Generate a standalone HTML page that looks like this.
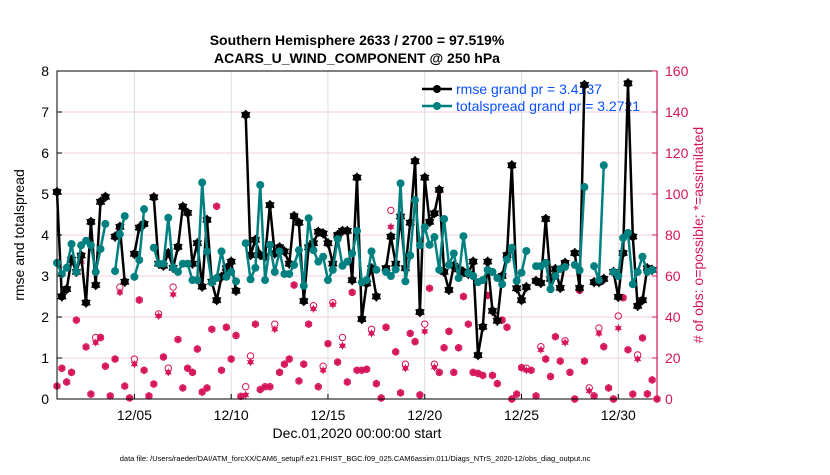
<!DOCTYPE html>
<html><head><meta charset="utf-8"><style>
body{margin:0;background:#fff;width:830px;height:470px;overflow:hidden;font-family:"Liberation Sans",sans-serif}
svg text{font-family:"Liberation Sans",sans-serif}
</style></head><body>
<svg id="chart" width="830" height="470" xmlns="http://www.w3.org/2000/svg">
<text x="357" y="45" text-anchor="middle" font-size="14" font-weight="bold">Southern Hemisphere 2633 / 2700 = 97.519%</text>
<text x="357" y="63" text-anchor="middle" font-size="14" font-weight="bold">ACARS_U_WIND_COMPONENT @ 250 hPa</text>
<g id="grid"></g>
<g>
<line x1="422" y1="89" x2="452" y2="89" stroke="#000" stroke-width="2.5"/><circle cx="437" cy="89" r="4" fill="#000"/>
<text x="456" y="94" font-size="14" fill="#0a50ff">rmse grand pr = 3.4137</text>
<line x1="422" y1="106" x2="452" y2="106" stroke="#008080" stroke-width="2.5"/><circle cx="437" cy="106" r="4" fill="#008080"/>
<text x="456" y="111" font-size="14" fill="#0a50ff">totalspread grand pr = 3.2721</text>
</g>
<g id="obs"></g>
<g id="lines"></g>
<g id="axes"></g>
<text transform="translate(24,235) rotate(-90)" text-anchor="middle" font-size="14">rmse and totalspread</text>
<text transform="translate(703,235) rotate(-90)" text-anchor="middle" font-size="14" fill="#d6155a"># of obs: o=possible; *=assimilated</text>
<text x="357" y="438" text-anchor="middle" font-size="14">Dec.01,2020 00:00:00 start</text>
<text x="355" y="461" text-anchor="middle" font-size="7.5">data file: /Users/raeder/DAI/ATM_forcXX/CAM6_setup/f.e21.FHIST_BGC.f09_025.CAM6assim.011/Diags_NTrS_2020-12/obs_diag_output.nc</text>
</svg>
<script>
const rmse=[5.05,2.5,2.68,3.4,3.1,3.5,2.35,4.32,2.78,4.81,4.93,null,3.96,4.2,2.86,null,3.54,4.18,4.27,null,4.92,3.3,3.25,3.56,3.2,3.71,4.69,4.54,3.3,3.8,2.74,4.37,2.86,2.41,2.98,3.19,3.35,2.64,null,6.93,3.51,3.88,3.51,3.47,4.73,3.55,3.7,3.6,3.3,4.46,4.3,2.39,3.7,3.8,4.08,4.04,3.8,3.3,4.0,4.1,4.1,2.9,5.4,1.95,2.82,3.19,2.5,null,3.19,3.96,3.3,4.45,3.19,4.3,5.8,2.12,5.4,4.32,4.53,5.1,3.1,2.66,3.25,3.16,3.1,3.05,3.35,1.07,1.76,3.35,2.15,1.91,3.0,3.51,5.7,2.7,2.41,2.73,null,2.88,2.83,4.39,2.93,3.17,2.71,3.32,null,3.56,2.71,7.66,null,2.85,2.85,2.93,null,3.1,2.49,3.56,7.7,3.96,2.27,2.41,3.19,3.15,null];
const spread=[3.32,3.05,3.2,3.78,3.1,3.75,3.86,3.75,3.1,3.66,4.27,null,3.12,4.02,4.46,null,2.98,3.39,4.63,null,3.69,3.3,3.3,4.42,3.2,3.1,3.3,3.3,2.9,2.9,5.28,3.6,2.84,2.95,3.6,2.98,3.1,2.87,null,3.8,2.92,3.2,5.22,2.9,3.76,3.1,3.6,3.05,3.05,3.27,3.63,2.76,4.41,3.63,3.35,3.47,2.9,3.15,3.9,3.25,3.35,3.55,4.1,2.85,2.9,3.6,3.15,null,3.1,3.0,3.16,5.26,2.87,3.5,4.85,3.75,4.19,3.76,3.95,3.15,4.39,3.27,3.55,2.95,3.97,3.07,3.0,2.85,2.9,3.15,3.1,2.95,2.8,3.4,3.69,2.88,3.08,3.61,null,3.24,3.24,3.32,2.68,3.0,3.17,3.22,null,3.27,3.14,5.17,null,3.24,2.9,5.7,null,3.1,3.0,3.93,4.05,2.8,3.1,3.47,3.1,3.15,null];
const possible=[6.3,15,8.3,13,38.5,70,25.4,2.4,30,30,16,1.5,19.5,54.6,6.3,0.5,19.5,48.3,14,1.5,7.3,41.5,20.5,15,54.6,29,5.4,15,13,24.4,3.4,5.4,34,94,14,35,19.5,31,1.3,6,21,36.5,4.6,6,6,36.5,13,17,19.5,55.6,8.8,17,36.5,45.5,6,16,27,47,18,30,8.3,52,14,14,14.5,34,7.5,0.5,35,92,23,3,17,32,28,2,36.5,54,17,13,25,33,13,25,50,36.5,13,12.5,11.5,50.5,11.5,7.5,38.5,35,0,2.4,15.3,15,14,1.5,25.5,19.5,11,30.4,18.5,28.4,13,0,53,18.5,5.4,1.5,34.6,25.5,5.4,0,40.5,49.4,24,2.4,21.5,29.8,2.5,9.3,0];
const assimilated=[6.3,15,8.3,13,38.5,67,25.4,2.4,27.5,30,16,1.5,19.5,52,6.3,0.5,17,48.3,14,1.5,7.3,40.5,20.5,13,51,29,5.4,15,13,24.4,3.4,5.4,34,94,14,35,19.5,31,1.3,2,18,36.5,4.6,6,6,34,13,17,19.5,55.6,8.8,17,36.5,44,6,14,27,46,18,26,8.3,52,14,14,14.5,32,7.5,0.5,35,84,23,3,15,32,28,2,33,54,15.5,13,25,33,13,25,50,36.5,13,12.5,11.5,50.5,11.5,7.5,38.5,35,0,2.4,15.3,14,14,1.5,24,19.5,11,30.4,18.5,27.5,13,0,53,18.5,4,1.5,32,25.5,5.4,0,34.6,49.4,24,2.4,19.5,29.8,2.5,9.3,0];
const dayTicks=[4,9,14,19,24,29];
const dayLabels=["12/05","12/10","12/15","12/20","12/25","12/30"];
const leftTicks=[0,1,2,3,4,5,6,7,8];
const rightTicks=[0,20,40,60,80,100,120,140,160];

const X0=57,X1=657,Y0=399,Y1=71,NS="http://www.w3.org/2000/svg";
const xs=t=>X0+t/31*(X1-X0);
const yL=v=>Y0-v/8*(Y0-Y1);
const yR=v=>Y0-v/160*(Y0-Y1);
const tOf=i=>i/4;
function mk(p,tag,a){const e=document.createElementNS(NS,tag);for(const k in a)e.setAttribute(k,a[k]);p.appendChild(e);return e;}
const grid=document.getElementById('grid'),axes=document.getElementById('axes'),obs=document.getElementById('obs'),lines=document.getElementById('lines');
rightTicks.forEach(v=>{const l=mk(grid,'line',{x1:X0,x2:X1,y1:yR(v),y2:yR(v),stroke:'#f3cfdc','stroke-width':1});

});
dayTicks.forEach((d,k)=>{const l=mk(grid,'line',{x1:xs(d),x2:xs(d),y1:Y1,y2:Y0,stroke:'#ddd','stroke-width':1});


const t=mk(axes,'text',{x:xs(d),y:Y0+21,'text-anchor':'middle','font-size':14});t.textContent=dayLabels[k];


mk(axes,'line',{x1:xs(d),x2:xs(d),y1:Y0,y2:Y0-5,stroke:'#000'});});
mk(axes,'rect',{x:X0,y:Y1,width:X1-X0,height:Y0-Y1,fill:'none',stroke:'#000','stroke-width':1});
mk(axes,'line',{x1:X1,x2:X1,y1:Y1,y2:Y0,stroke:'#d6155a','stroke-width':1.2});
leftTicks.forEach(v=>{const t=mk(axes,'text',{x:X0-8,y:yL(v)+5,'text-anchor':'end','font-size':14});t.textContent=v;


mk(axes,'line',{x1:X0,x2:X0+5,y1:yL(v),y2:yL(v),stroke:'#000'});});
rightTicks.forEach(v=>{const t=mk(axes,'text',{x:X1+8,y:yR(v)+5,'font-size':14,fill:'#d6155a'});t.textContent=v;


mk(axes,'line',{x1:X1-5,x2:X1,y1:yR(v),y2:yR(v),stroke:'#d6155a'});});
function star(p,x,y,r,c,w){for(let a=0;a<3;a++){const an=a*Math.PI/3+Math.PI/2;mk(p,'line',{x1:x-r*Math.cos(an),y1:y-r*Math.sin(an),x2:x+r*Math.cos(an),y2:y+r*Math.sin(an),stroke:c,'stroke-width':w});}}
possible.forEach((v,i)=>{const c=mk(obs,'circle',{cx:xs(tOf(i)),cy:yR(v),r:3.2,fill:'none',stroke:'#d6155a','stroke-width':1});

});
assimilated.forEach((v,i)=>{const g=mk(obs,'g',{});


mk(g,'circle',{cx:xs(tOf(i)),cy:yR(v),r:2.6,fill:'#d6155a'});star(g,xs(tOf(i)),yR(v),3.8,'#d6155a',1);});
function series(arr,color,name){let d='',pen=false;arr.forEach((v,i)=>{if(v==null){pen=false;return;}d+=(pen?'L':'M')+xs(tOf(i)).toFixed(1)+' '+yL(v).toFixed(1);pen=true;});
const p=mk(lines,'path',{d:d,fill:'none',stroke:color,'stroke-width':2.5,'stroke-linejoin':'round'});


arr.forEach((v,i)=>{if(v==null)return;const c=mk(lines,'circle',{cx:xs(tOf(i)),cy:yL(v),r:4,fill:color});


if(color=='#000')star(lines,xs(tOf(i)),yL(v),5,'#000',1.5);});}
series(rmse,'#000','rmse');
series(spread,'#008080','totalspread');
</script>
</body></html>
